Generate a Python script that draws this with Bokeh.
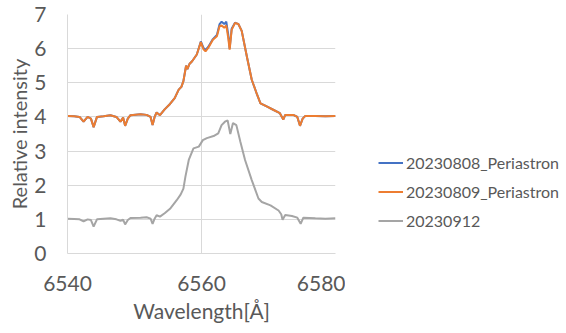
from bokeh.plotting import figure
from bokeh.layouts import row
from bokeh.models import Legend, LegendItem, FixedTicker, Range1d
from bokeh.embed import file_html
from bokeh.resources import INLINE

# Orange / blue spectra (shared wavelength grid)
wl_p = [6540.0, 6541.0, 6541.8, 6542.4, 6543.0, 6543.5, 6543.9, 6544.4, 6545.4, 6546.4,
        6547.3, 6547.9, 6548.3, 6548.6, 6549.0, 6549.4, 6550.9, 6551.8, 6552.4, 6552.7,
        6553.0, 6553.3, 6553.8, 6554.5, 6555.3, 6556.0, 6556.6, 6557.0, 6557.3, 6557.7,
        6557.9, 6558.2, 6558.6, 6559.3, 6559.9, 6560.3, 6560.6, 6561.0, 6561.7, 6562.3,
        6562.7, 6563.0, 6563.4, 6563.7, 6564.0, 6564.2, 6564.5, 6565.0, 6565.5, 6566.0,
        6566.8, 6567.5, 6568.3, 6568.8, 6569.8, 6570.7, 6571.7, 6572.0, 6572.2, 6572.5,
        6573.0, 6573.7, 6574.3, 6574.7, 6575.1, 6575.5, 6577.0, 6578.5, 6580.0]
i_0809 = [4.03, 4.02, 4.00, 3.86, 4.00, 3.95, 3.70, 4.00, 4.02, 4.05,
          4.00, 3.86, 3.98, 3.74, 3.95, 4.05, 4.08, 4.06, 4.00, 3.76,
          4.00, 4.13, 4.05, 4.22, 4.38, 4.55, 4.80, 4.88, 5.05, 5.50,
          5.40, 5.55, 5.63, 5.83, 6.19, 5.98, 5.92, 6.02, 6.26, 6.36,
          6.66, 6.68, 6.61, 6.68, 6.30, 5.97, 6.55, 6.75, 6.72, 6.52,
          5.74, 5.09, 4.65, 4.40, 4.30, 4.21, 4.11, 4.00, 3.92, 4.06,
          4.06, 4.06, 4.00, 3.74, 3.95, 4.03, 4.03, 4.02, 4.03]
i_0808 = [4.03, 4.02, 4.00, 3.86, 4.00, 3.95, 3.70, 4.00, 4.02, 4.05,
          4.00, 3.86, 3.98, 3.74, 3.95, 4.05, 4.08, 4.06, 4.00, 3.76,
          4.00, 4.13, 4.05, 4.22, 4.38, 4.55, 4.80, 4.88, 5.05, 5.50,
          5.40, 5.55, 5.63, 5.83, 6.21, 6.02, 5.96, 6.05, 6.28, 6.40,
          6.72, 6.79, 6.72, 6.79, 6.40, 6.00, 6.58, 6.76, 6.72, 6.52,
          5.74, 5.09, 4.65, 4.40, 4.30, 4.21, 4.11, 4.00, 3.92, 4.06,
          4.06, 4.06, 4.00, 3.74, 3.95, 4.03, 4.03, 4.02, 4.03]

# Grey spectrum
wl_g = [6540.0, 6541.0, 6541.8, 6542.4, 6543.0, 6543.5, 6543.9, 6544.4, 6545.4, 6546.4,
        6547.3, 6547.9, 6548.3, 6548.6, 6549.0, 6549.4, 6550.9, 6551.8, 6552.4, 6552.7,
        6553.0, 6553.3, 6553.8, 6554.5, 6555.3, 6556.3, 6556.9, 6557.3, 6557.6, 6558.1,
        6558.8, 6559.6, 6560.2, 6560.8, 6561.8, 6562.5, 6563.0, 6563.5, 6563.9, 6564.3,
        6564.7, 6565.2, 6565.8, 6566.5, 6567.5, 6568.5, 6569.0, 6570.3, 6571.5, 6571.9,
        6572.1, 6572.5, 6573.5, 6574.3, 6574.8, 6575.2, 6577.0, 6578.5, 6580.0]
i_0912 = [1.02, 1.01, 1.00, 0.94, 1.00, 0.98, 0.79, 1.00, 1.02, 1.03,
          1.00, 0.96, 0.99, 0.85, 0.98, 1.04, 1.05, 1.06, 1.02, 0.87,
          1.02, 1.12, 1.08, 1.18, 1.31, 1.56, 1.73, 1.90, 2.25, 2.74,
          3.08, 3.13, 3.32, 3.38, 3.44, 3.52, 3.76, 3.86, 3.90, 3.50,
          3.82, 3.76, 3.27, 2.74, 2.15, 1.61, 1.51, 1.41, 1.26, 1.15,
          0.99, 1.13, 1.10, 1.05, 0.87, 1.05, 1.03, 1.02, 1.03]

series_names = ["20230808_Periastron", "20230809_Periastron", "20230912"]
series_colors = ["#4472C4", "#ED7D31", "#A5A5A5"]
series_x = [wl_p, wl_p, wl_g]
series_y = [i_0808, i_0809, i_0912]
x_ticks = [6540, 6560, 6580]
y_ticks = [0, 1, 2, 3, 4, 5, 6, 7]

FONT = "Lato"
TXT = "#595959"
GRID = "#d9d9d9"

p = figure(width=345, height=333, output_backend="svg", toolbar_location=None,
           x_range=Range1d(6540, 6580), y_range=Range1d(0, 7),
           min_border_left=67, min_border_right=10, min_border_top=14, min_border_bottom=80)
p.outline_line_color = None
p.background_fill_color = "white"

for xs, ys, col in zip(series_x, series_y, series_colors):
    p.line(xs, ys, line_color=col, line_width=2)

for ax in (p.xaxis[0], p.yaxis[0]):
    ax.axis_line_color = GRID
    ax.major_tick_line_color = None
    ax.minor_tick_line_color = None
    ax.major_label_text_color = TXT
    ax.major_label_text_font = FONT
    ax.major_label_text_font_size = "21px"
    ax.axis_label_text_color = TXT
    ax.axis_label_text_font = FONT
    ax.axis_label_text_font_size = "21px"
    ax.axis_label_text_font_style = "normal"

p.yaxis.axis_label_text_font_size = "20px"
p.xaxis.ticker = FixedTicker(ticks=x_ticks)
p.yaxis.ticker = FixedTicker(ticks=y_ticks)
p.xaxis.axis_label = "Wavelength[Å]"
p.yaxis.axis_label = "Relative intensity"
p.xaxis.major_label_standoff = 16
p.yaxis.major_label_standoff = 15
p.xaxis.axis_label_standoff = 4
p.yaxis.axis_label_standoff = 0

p.xgrid.ticker = FixedTicker(ticks=x_ticks)
p.ygrid.ticker = FixedTicker(ticks=y_ticks)
p.xgrid.grid_line_color = GRID
p.ygrid.grid_line_color = GRID

# Legend panel as a separate, axis-less figure (series drawn outside its visible range)
pl = figure(width=221, height=333, output_backend="svg", toolbar_location=None,
            x_range=Range1d(0, 1), y_range=Range1d(0, 1),
            min_border_left=0, min_border_right=0, min_border_top=0, min_border_bottom=0)
pl.axis.visible = False
pl.grid.visible = False
pl.outline_line_color = None
items = []
for name, col, xs, ys in zip(series_names, series_colors, series_x, series_y):
    r = pl.line(xs, ys, line_color=col, line_width=2)
    items.append(LegendItem(label=name, renderers=[r]))
legend = Legend(items=items, location=(33, 18), padding=0, margin=0, spacing=0,
                glyph_width=25, glyph_height=29, label_standoff=3,
                label_text_font=FONT, label_text_font_size="16px",
                label_text_color=TXT, border_line_color=None,
                background_fill_alpha=0)
pl.add_layout(legend, "center")

layout = row(p, pl, spacing=0)
open("out.html", "w").write(file_html(layout, INLINE))
